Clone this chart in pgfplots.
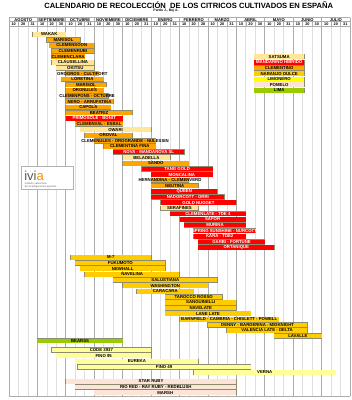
\documentclass[border=0pt]{standalone}
\usepackage{fontspec}
\setmainfont{Liberation Sans}
\usepackage{pgfplots}
\usepackage{pgfplotstable}
\pgfplotsset{compat=1.18}

\definecolor{sat}{HTML}{FFE699}
\definecolor{mh}{HTML}{FF0000}
\definecolor{clem}{HTML}{FFA500}
\definecolor{nar}{HTML}{FFCC00}
\definecolor{lim}{HTML}{FFFF99}
\definecolor{limleg}{HTML}{FFFF00}
\definecolor{pom}{HTML}{FCE4D6}
\definecolor{lima}{HTML}{99CC00}
\definecolor{brd}{HTML}{8C8C70}
\definecolor{ivorange}{HTML}{F39200}

\pgfplotsset{
 barb/.style={forget plot, draw=none, mark=none, no markers,
   error bars/.cd, x dir=both, x explicit, error mark=none,
   error bar style={line width=5.3pt, draw=brd, solid}},
 barf/.style 2 args={forget plot, draw=none, mark=none, no markers,
   nodes near coords, point meta=explicit symbolic,
   every node near coord/.append style={anchor=center, inner sep=0pt,
     font=\fontsize{4.3}{4.3}\selectfont\bfseries, text=#2},
   error bars/.cd, x dir=both, x explicit, error mark=none,
   error bar style={line width=4.5pt, draw=#1, solid}},
}

\pgfplotstableread{
s e y label
2.5 6 34.3 WAKAK
4.5 9 62.4 CLAUSELLINA
5 9 68.0 OKITSU
7.5 15 129.7 OWARI
12 17 157.7 BELADELLA
16 20 208.2 SERAFINES
25.9 31.15 56.7 SATSUMA
}\tsat

\pgfplotstableread{
s e y label
4 7.5 39.9 MARISOL
4.25 9 45.5 CLEMENSOON
4.5 9 51.1 CLEMENRUBI
4.5 8 56.7 CLEMENCLARA
6 9.5 73.6 {OROGROS - CULTIFORT}
5.5 10 79.2 LORETINA
6 10.25 84.8 MARISOL
6 10 90.4 ORONULES
6 10.5 96.0 {CLEMENPONS - OCTUBRE}
6 11 101.6 {NERO - ARRUFATINA}
6 10.75 107.2 CAPOLA
6 13 112.8 BEATRIZ
7 12 124.1 {CLEMENVAL - ESBAL}
8 13 135.3 OROVAL
9 15.5 140.9 {CLEMENULES - OROGRANDE - NULESSIN}
10 15.5 146.5 {CLEMENTINA FINA}
12 19 163.3 SANDO
15 19 180.2 {HERNANDINA - CLEMENVERD}
15 20 185.8 NEUTINA
25.9 31.15 68.0 CLEMENTINO
}\tclem

\pgfplotstableread{
s e y label
6 12 118.5 {PRIMOSOLE - BONIT}
11 18.5 152.1 {NOVA - MANDANOVA SL}
14 21.5 168.9 {TANG GOLD}
15 21.5 174.6 MONCALINA
15 22 191.4 QUEEN
15 22.75 197.0 {NADORCOTT - ORRI}
16 24 202.6 {GOLD NUGGET}
17 25 213.8 {CLEMENLATE - TDE 4}
18 25 219.4 SAFOR
18.5 25 225.0 MURINA
19.5 26 230.8 {SPRING SUNSHINE - NURCOTT}
19.5 25 236.3 {KARA - TDE2}
20 27 241.9 {GARBI - FORTUNE}
20 28 247.5 ORTANIQUE
25.9 31.15 62.3 {MANDARINO HIBRIDO}
}\tmh

\pgfplotstableread{
s e y label
6.5 15 257.3 M-7
7 16.5 263.0 FUKUMOTO
7.5 16.5 268.7 NEWHALL
8 18 274.3 NAVELINA
11 22 280.0 SALUSTIANA
12 21 285.6 WASHINGTON
13.5 19.5 291.3 CARACARA
16.5 22.5 296.9 {TAROCCO ROSSO}
16.5 24 302.5 SANGUINELLI
16.5 24 308.1 NAVELATE
16.5 25.5 313.7 {LANE LATE}
18 28.5 319.3 {BARNFIELD - CAMBRIA - CHISLETT - POWELL}
21 31.5 324.9 {DENNY - BARDERINA - MIDKNIGHT}
23 31.5 330.5 {VALENCIA LATE - DELTA}
28 33 336.1 LAVALLE
25.9 31.15 73.7 {NARANJO DULCE}
}\tnar

\pgfplotstableread{
s e y label
3 12 340.8 BEARSS
25.9 31.15 90.3 LIMA
}\tlima

\pgfplotstableread{
s e y label
4.5 15 350.0 {CODE 3937}
5 15 355.7 {FINO 95}
7 20 361.3 EUREKA
7.25 25.5 366.9 {FINO 49}
19.5 34.5 372.5 VERNA
}\tlim

\pgfplotstableread{
s e y label
25.9 31.15 79.3 LIMONERO
}\tlimleg

\pgfplotstableread{
s e y label
6 24 381.3 {STAR RUBY}
7 24 387.0 {RIO RED - RAY RUBY - REDBLUSH}
9 24 392.7 MARSH
25.9 31.15 84.7 POMELO
}\tpom

\newcommand\barsof[3]{%
 \addplot[barb] table[x expr=(\thisrow{s}+\thisrow{e})/2, y=y,
   x error expr=(\thisrow{e}-\thisrow{s})/2+0.05]{#1};
 \addplot[barf={#2}{#3}] table[x expr=(\thisrow{s}+\thisrow{e})/2, y=y,
   x error expr=(\thisrow{e}-\thisrow{s})/2, meta=label]{#1};
}

\newcommand\mes[3]{%
 \node[font=\fontsize{4.1}{4.1}\selectfont\bfseries, inner sep=0pt] at (axis cs:#1+1.5,19.6) {#2};
 \node[font=\fontsize{3.8}{3.8}\selectfont\bfseries, inner sep=0pt] at (axis cs:#1+0.5,23.85) {10};
 \node[font=\fontsize{3.8}{3.8}\selectfont\bfseries, inner sep=0pt] at (axis cs:#1+1.5,23.85) {20};
 \node[font=\fontsize{3.8}{3.8}\selectfont\bfseries, inner sep=0pt] at (axis cs:#1+2.5,23.85) {#3};
}

\begin{document}
\begin{tikzpicture}
\begin{axis}[
  scale only axis, width=341pt, height=378.5pt,
  xmin=0, xmax=36, ymin=17.5, ymax=396, y dir=reverse,
  clip=false,
  axis line style={draw=none},
  xtick={0,3,...,36},
  minor xtick={1,2,4,5,7,8,10,11,13,14,16,17,19,20,22,23,25,26,28,29,31,32,34,35},
  ytick=\empty,
  xticklabels={}, xticklabel style={inner sep=0pt, outer sep=0pt},
  major tick length=0pt, minor tick length=0pt,
  xmajorgrids, xminorgrids,
  major grid style={draw=gray!65, line width=0.7pt},
  minor grid style={draw=gray!25, line width=0.7pt},
]
\coordinate (bbsw) at (axis cs:-0.9502,400);
\coordinate (bbne) at (axis cs:36.2111,0);

% header
\fill[white] (axis cs:0,17.5) rectangle (axis cs:36,21.7);
\draw[gray!65, line width=0.6pt] (axis cs:0,17.5) -- (axis cs:36,17.5)
  (axis cs:0,21.7) -- (axis cs:36,21.7) (axis cs:0,26) -- (axis cs:36,26)
  (axis cs:0,396) -- (axis cs:36,396);
\pgfplotsinvokeforeach{0,3,...,36}{\draw[gray!65, line width=0.7pt] (axis cs:#1,17.5) -- (axis cs:#1,26);}
\pgfplotsinvokeforeach{1,2,4,5,7,8,10,11,13,14,16,17,19,20,22,23,25,26,28,29,31,32,34,35}{\draw[gray!65, line width=0.6pt] (axis cs:#1,21.7) -- (axis cs:#1,26);}
\mes{0}{AGOSTO}{31}
\mes{3}{SEPTIEMBRE}{30}
\mes{6}{OCTUBRE}{31}
\mes{9}{NOVIEMBRE}{30}
\mes{12}{DICIEMBRE}{31}
\mes{15}{ENERO}{31}
\mes{18}{FEBRERO}{28}
\mes{21}{MARZO}{31}
\mes{24}{ABRIL}{30}
\mes{27}{MAYO}{31}
\mes{30}{JUNIO}{30}
\mes{33}{JULIO}{31}

% title
\node[font=\fontsize{7.6}{7.6}\selectfont\bfseries, inner sep=0pt] at (axis cs:18.98,5.2)
  {CALENDARIO DE RECOLECCIÓN\ \ DE LOS CITRICOS CULTIVADOS EN ESPAÑA};
\node[font=\fontsize{3.4}{3.4}\selectfont\bfseries, inner sep=0pt] at (axis cs:16.58,10.6) {Pardo J., Buj A.};

% logo
\draw[gray!60, fill=white, line width=0.5pt] (axis cs:1.34,166.5) rectangle (axis cs:6.79,189.5);
\node[anchor=west, inner sep=0pt, font=\fontsize{13}{13}\selectfont] at (axis cs:1.6,175.5)
  {\textcolor{gray!70!black}{ivi}\textcolor{ivorange}{a}};
\node[anchor=north west, inner sep=0pt, align=left, text=gray!80!black,
  font=\fontsize{2.6}{3}\selectfont] at (axis cs:1.65,182.6)
  {instituto valenciano\\de investigaciones agrarias};

\barsof{\tsat}{sat}{black}
\barsof{\tclem}{clem}{black}
\barsof{\tmh}{mh}{white}
\barsof{\tnar}{nar}{black}
\barsof{\tlima}{lima}{black}
\barsof{\tlim}{lim}{black}
\barsof{\tlimleg}{limleg}{black}
\barsof{\tpom}{pom}{black}
\end{axis}
\pgfresetboundingbox
\path (bbsw) rectangle (bbne);
\end{tikzpicture}
\end{document}
